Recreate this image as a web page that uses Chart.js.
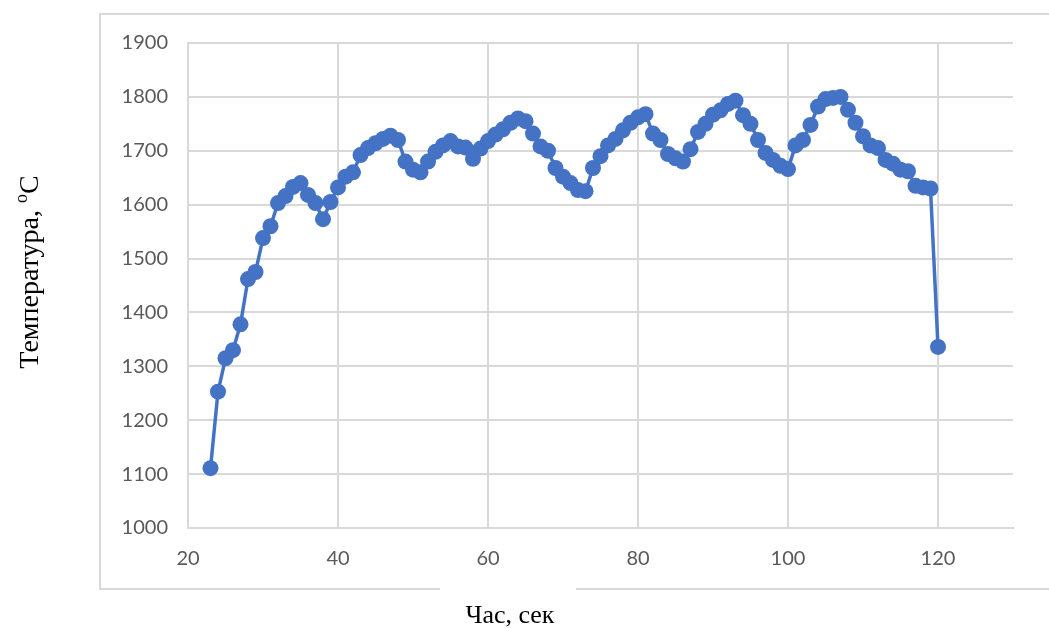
<!DOCTYPE html>
<html>
<head>
<meta charset="utf-8">
<script src="https://cdn.jsdelivr.net/npm/chart.js@4.4.0/dist/chart.umd.min.js"></script>
<style>
  html, body { margin: 0; padding: 0; background: #ffffff; }
  #wrap { position: relative; width: 1049px; height: 628px; }
  canvas { display: block; }
</style>
</head>
<body>
<div id="wrap"><canvas id="c" width="1049" height="628"></canvas></div>
<script>
// ---- data ----
const seconds = [23, 24, 25, 26, 27, 28, 29, 30, 31, 32, 33, 34, 35, 36, 37, 38, 39, 40,
  41, 42, 43, 44, 45, 46, 47, 48, 49, 50, 51, 52, 53, 54, 55, 56, 57, 58, 59, 60,
  61, 62, 63, 64, 65, 66, 67, 68, 69, 70, 71, 72, 73, 74, 75, 76, 77, 78, 79, 80,
  81, 82, 83, 84, 85, 86, 87, 88, 89, 90, 91, 92, 93, 94, 95, 96, 97, 98, 99, 100,
  101, 102, 103, 104, 105, 106, 107, 108, 109, 110, 111, 112, 113, 114, 115, 116, 117, 118, 119, 120];
const temperature = [1111, 1253, 1315, 1330, 1378, 1462, 1475, 1538, 1560, 1603, 1616, 1633, 1640, 1618, 1603, 1573, 1605, 1632,
  1652, 1660, 1692, 1705, 1714, 1722, 1728, 1720, 1680, 1665, 1660, 1680, 1698, 1710, 1718, 1708, 1706, 1685, 1704, 1718,
  1730, 1740, 1752, 1760, 1755, 1732, 1708, 1700, 1668, 1652, 1640, 1627, 1625, 1668, 1690, 1710, 1722, 1738, 1752, 1762,
  1768, 1732, 1720, 1694, 1686, 1680, 1703, 1735, 1750, 1767, 1775, 1787, 1793, 1766, 1750, 1720, 1696, 1683, 1672, 1666,
  1710, 1720, 1748, 1782, 1796, 1798, 1800, 1776, 1752, 1727, 1710, 1705, 1683, 1676, 1665, 1662, 1635, 1632, 1630, 1336];
const xTickValues = [20, 40, 60, 80, 100, 120];
const yTickValues = [1000, 1100, 1200, 1300, 1400, 1500, 1600, 1700, 1800, 1900];
const xTitle = 'Час, сек';
const yTitleMain = 'Температура, ';
const yTitleSup = 'o';
const yTitleEnd = 'C';

const points = seconds.map((s, i) => ({ x: s, y: temperature[i] }));

const GRID = '#d9d9d9';
const TICK_FONT = { family: 'Lato, "Open Sans", sans-serif', size: 20 };

const framePlugin = {
  id: 'frame',
  beforeDraw(chart) {
    const ctx = chart.ctx;
    ctx.save();
    ctx.strokeStyle = GRID;
    ctx.lineWidth = 2;
    ctx.beginPath();
    // outer chart border (gap at the bottom where the x title box sits)
    ctx.moveTo(1049, 14); ctx.lineTo(100, 14);
    ctx.lineTo(100, 589); ctx.lineTo(440, 589);
    ctx.moveTo(576, 589); ctx.lineTo(1049, 589);
    ctx.stroke();
    ctx.restore();
  },
  afterDraw(chart) {
    const ctx = chart.ctx;
    ctx.save();
    ctx.fillStyle = '#000000';
    const serif = '"Liberation Serif", "Times New Roman", serif';
    // x title
    ctx.font = '26px ' + serif;
    ctx.textAlign = 'center';
    ctx.textBaseline = 'alphabetic';
    ctx.fillText(xTitle, 510, 623);
    // y title, rotated
    const big = '28px ' + serif, small = '18px ' + serif;
    ctx.font = big;
    const w1 = ctx.measureText(yTitleMain).width;
    const w3 = ctx.measureText(yTitleEnd).width;
    ctx.font = small;
    const w2 = ctx.measureText(yTitleSup).width;
    const total = w1 + w2 + w3;
    ctx.translate(38, 272);
    ctx.rotate(-Math.PI / 2);
    ctx.textAlign = 'left';
    let x0 = -total / 2;
    ctx.font = big;
    ctx.fillText(yTitleMain, x0, 0);
    ctx.font = small;
    ctx.fillText(yTitleSup, x0 + w1, -11);
    ctx.font = big;
    ctx.fillText(yTitleEnd, x0 + w1 + w2, 0);
    ctx.restore();
  }
};

new Chart(document.getElementById('c'), {
  type: 'scatter',
  data: {
    datasets: [{
      data: points,
      showLine: true,
      borderColor: '#4472C4',
      backgroundColor: '#4472C4',
      borderWidth: 3.5,
      pointRadius: 8,
      pointHoverRadius: 8,
      pointBorderWidth: 0,
      tension: 0
    }]
  },
  options: {
    responsive: false,
    animation: false,
    events: [],
    layout: { padding: { left: 100, top: 43, right: 36, bottom: 0 } },
    plugins: { legend: { display: false }, tooltip: { enabled: false } },
    scales: {
      x: {
        type: 'linear',
        min: 20, max: 130,
        afterBuildTicks: (axis) => { axis.ticks = xTickValues.map(v => ({ value: v })); },
        afterFit: (scale) => { scale.height = 100; },
        grid: { color: GRID, lineWidth: 2, drawTicks: false },
        border: { color: GRID, width: 2 },
        ticks: { color: '#595959', font: TICK_FONT, padding: 19, maxRotation: 0,
                 callback: (v) => String(v) }
      },
      y: {
        type: 'linear',
        min: 1000, max: 1900,
        afterBuildTicks: (axis) => { axis.ticks = yTickValues.map(v => ({ value: v })); },
        afterFit: (scale) => { scale.width = 88; },
        grid: { color: GRID, lineWidth: 2, drawTicks: false },
        border: { color: GRID, width: 2 },
        ticks: { color: '#595959', font: TICK_FONT, padding: 20,
                 callback: (v) => String(v) }
      }
    }
  },
  plugins: [framePlugin]
});
</script>
</body>
</html>
